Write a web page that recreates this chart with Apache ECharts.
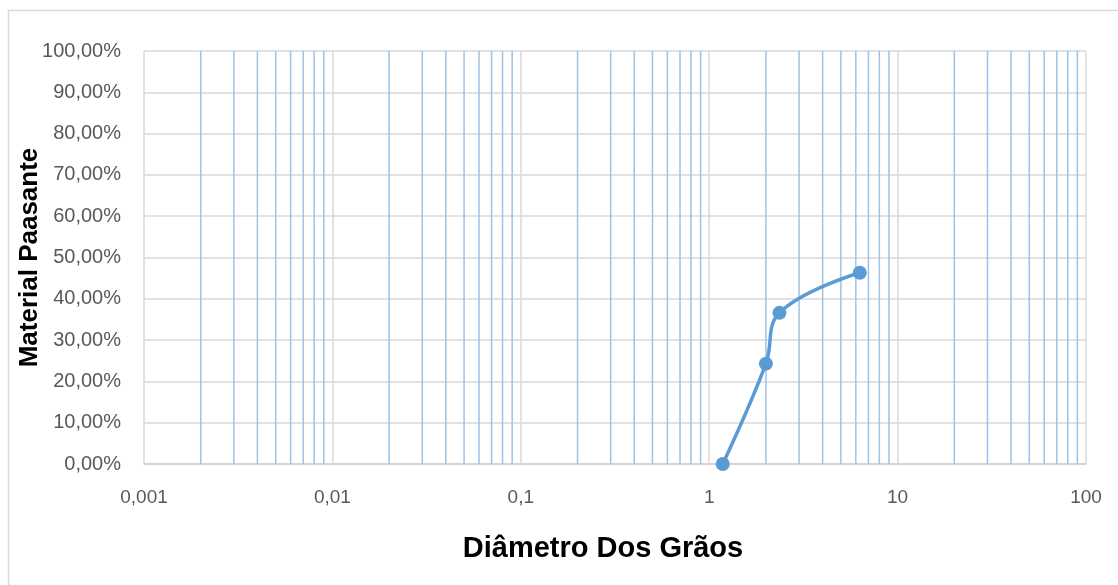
<!DOCTYPE html>
<html>
<head>
<meta charset="utf-8">
<script src="https://cdn.jsdelivr.net/npm/echarts@6/dist/echarts.min.js"></script>
<style>
  html, body { margin: 0; padding: 0; background: #fff; }
  #chart { width: 1118px; height: 585px; }
</style>
</head>
<body>
<div id="chart"></div>
<script>
// Grain size distribution: sieve opening (mm) vs. percent passing
const grainDiameters = [1.18, 2.0, 2.36, 6.3];
const percentPassing = [0, 24.3, 36.6, 46.3];

// Log-axis decades and the intermediate 2..9 gridlines between them
const decadeTicks = [0.001, 0.01, 0.1, 1, 10, 100];
const minorMultipliers = [2, 3, 4, 5, 6, 7, 8, 9];

const xTitle = 'Diâmetro Dos Grãos';
const yTitle = 'Material Paasante';

const minorValues = [];
for (let d = 0; d < decadeTicks.length - 1; d++) {
  for (const m of minorMultipliers) {
    minorValues.push(+(decadeTicks[d] * m).toPrecision(6));
  }
}

const fmtNumber = v => String(+(+v).toPrecision(6)).replace('.', ',');
const fmtPercent = v => v.toFixed(2).replace('.', ',') + '%';

const chart = echarts.init(document.getElementById('chart'), null, { renderer: 'canvas' });

chart.setOption({
  animation: false,
  backgroundColor: '#ffffff',
  textStyle: { fontFamily: 'Liberation Sans, Arial, sans-serif' },
  graphic: [{
    type: 'rect',
    shape: { x: 8.5, y: 10.5, width: 1130, height: 600 },
    style: { fill: 'none', stroke: '#d9d9d9', lineWidth: 1.5 },
    silent: true
  }],
  grid: { left: 144, right: 32, top: 51, bottom: 121, containLabel: false },
  xAxis: {
    type: 'log',
    logBase: 10,
    min: 0.001,
    max: 100,
    name: xTitle,
    nameLocation: 'middle',
    nameGap: 70,
    nameMoveOverlap: false,
    nameTextStyle: {
      fontSize: 29, fontWeight: 'bold', color: '#000000',
      fontFamily: 'Liberation Sans, Arial, sans-serif',
      padding: [0, 24, 0, 0]
    },
    axisLine: { show: true, lineStyle: { color: '#d0d0d0', width: 1.5 } },
    axisTick: { show: false },
    axisLabel: { color: '#595959', fontSize: 19, margin: 24, formatter: fmtNumber },
    splitLine: { show: true, lineStyle: { color: '#d9d9d9', width: 1.5 } },
    minorTick: { show: false },
    minorSplitLine: { show: false }
  },
  yAxis: {
    type: 'value',
    min: 0,
    max: 100,
    interval: 10,
    name: yTitle,
    nameLocation: 'middle',
    nameGap: 101,
    nameMoveOverlap: false,
    nameTextStyle: { fontSize: 26, fontWeight: 'bold', color: '#000000', fontFamily: 'Liberation Sans, Arial, sans-serif' },
    axisLine: { show: false },
    axisTick: { show: false },
    axisLabel: { color: '#595959', fontSize: 20, margin: 23, formatter: fmtPercent },
    splitLine: { show: true, lineStyle: { color: '#d9d9d9', width: 1.5 } }
  },
  series: [
    {
      // intermediate log gridlines (2..9 within each decade)
      type: 'custom',
      silent: true,
      z: 1,
      clip: true,
      data: minorValues.map(v => [v]),
      encode: { x: 0 },
      renderItem: (params, api) => {
        const v = api.value(0);
        const p0 = api.coord([v, 0]);
        const p1 = api.coord([v, 100]);
        return {
          type: 'line',
          shape: { x1: p0[0], y1: p0[1], x2: p1[0], y2: p1[1] },
          style: { stroke: '#9dc3e6', lineWidth: 1.5 }
        };
      }
    },
    {
      type: 'line',
      z: 3,
      data: grainDiameters.map((d, i) => [d, percentPassing[i]]),
      smooth: 0.4,
      symbol: 'circle',
      symbolSize: 14,
      lineStyle: { color: '#5b9bd5', width: 3.5 },
      itemStyle: { color: '#5b9bd5' }
    }
  ]
});
</script>
</body>
</html>
